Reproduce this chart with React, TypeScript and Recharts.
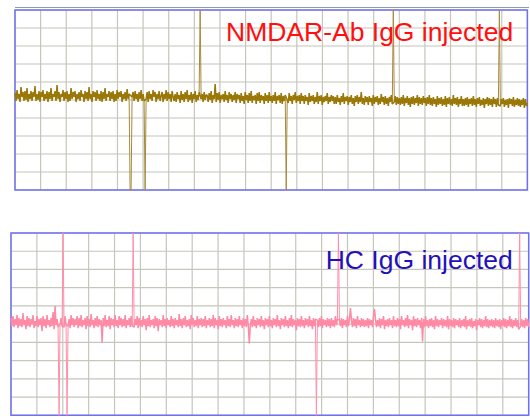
import React from "react";
import { LineChart, Line, XAxis, YAxis, CartesianGrid, ReferenceArea } from "recharts";

// Recorded traces, one sample per step, in arbitrary units (panel spans -90..90).
const nmdarTrace: number[] = [
  7,-1,10,1,6,-2,13,3,8,-1,9,0,12,-2,6,1,9,-1,8,3,14,-1,6,0,9,-2,8,3,10,-1,6,1,
  9,-2,8,1,12,-1,6,3,9,-1,15,1,8,-2,6,3,10,-1,8,1,9,-2,6,-1,12,1,8,3,9,-2,6,1,
  8,-1,10,3,6,-2,9,1,8,-1,13,1,6,-2,9,3,8,-1,10,1,6,-1,9,-2,8,1,12,-1,6,3,9,-1,
  8,1,9,-2,6,-1,10,1,8,3,9,-2,6,1,8,-1,11,1,6,-90,-90,3,8,-1,9,1,6,-2,8,1,10,-1,
  6,-1,-90,1,8,-2,9,1,6,-1,10,3,8,-2,6,1,9,-1,4,8,-2,6,1,10,-1,8,1,6,-2,9,3,-1,
  6,-2,8,1,5,-3,9,0,6,-2,8,1,10,-2,5,0,8,-3,6,1,9,-2,5,0,8,90,1,6,-2,8,0,5,
  5,-2,7,0,9,-3,5,1,16,-2,7,0,8,-3,5,1,6,-2,9,0,5,-3,8,1,6,-2,5,0,8,-3,6,1,
  5,-3,7,-1,4,-4,8,0,5,-3,7,-1,9,-3,4,0,5,-4,7,-1,8,-3,5,0,4,-4,7,-1,5,-3,8,-1,
  4,-3,5,-1,8,-4,4,0,5,-3,7,-4,4,-1,5,-90,0,-3,7,-1,4,-4,5,0,8,-3,4,-1,5,-4,7,-1,
  4,-4,5,-1,3,-5,7,-2,4,-1,5,-4,3,-2,8,-4,4,-1,5,-5,3,-2,4,-1,7,-4,3,-2,5,-1,4,-4,
  3,-4,5,-2,2,-5,4,-2,7,-4,3,-1,4,-5,3,-2,5,-4,2,-6,4,-2,5,-4,3,-2,8,-4,2,-5,4,-2,
  3,-5,4,-2,2,-6,5,-4,3,-2,4,-5,2,-4,6,-2,3,-5,4,-4,2,-6,3,-2,5,-4,90,-2,4,-5,3,-4,
  2,-5,3,-4,5,-6,2,-3,4,-5,2,-7,3,-4,4,-5,2,-3,5,-6,3,-4,2,-5,4,-3,2,-6,3,-4,5,-5,
  2,-6,3,-4,1,-7,4,-5,2,-4,3,-6,1,-5,4,-7,2,-4,3,-5,1,-6,5,-4,2,-5,3,-7,1,-4,4,-6,
  1,-6,2,-5,3,-7,1,-4,2,-6,4,-5,1,-7,2,-4,3,-6,0,-5,2,-8,1,-4,3,-6,2,-5,1,-7,3,-4,
  1,-7,2,-5,90,-6,1,-4,2,-7,0,-5,1,-8,2,-4,1,-6,3,-7,0,-5,2,-6,1,-7,0,-5,2,-8,1,-6,
  -3,
];

const hcTrace: number[] = [
  6,-2,8,-3,5,-1,9,-4,6,-2,5,-3,11,-1,4,-5,8,-2,6,-3,5,0,9,-4,3,-2,8,-3,5,-1,6,-7,
  8,-2,5,-4,9,-1,4,-3,6,-2,12,-5,18,-1,5,-3,-90,0,6,-2,90,-3,8,-1,-90,-2,5,-4,9,-1,6,-3,
  5,-1,8,-4,6,-2,9,-3,4,-1,6,-5,8,-2,5,-3,10,-1,4,-4,6,-2,8,-3,5,-1,4,-18,6,-2,9,-3,
  4,-2,8,-5,6,-1,5,-3,9,-2,4,-4,8,-1,6,-3,5,-2,9,-4,4,-1,6,-3,8,-2,90,-3,5,-1,8,-4,
  6,-2,4,-3,8,-1,5,-6,6,-2,9,-3,4,-1,5,-4,8,-2,6,-7,5,-1,4,-3,9,-2,5,-4,6,-1,4,-3,
  8,-2,5,-4,6,-1,4,-3,10,-2,5,-4,6,-1,8,-3,4,-2,5,-5,9,-1,6,-3,4,-2,8,-4,5,-1,6,-3,
  5,-2,8,-4,4,-1,6,-3,5,-2,9,-4,6,-1,4,-5,8,-2,5,-3,6,-1,4,-4,8,-2,5,-3,9,-1,4,-4,
  6,-2,5,-3,8,-1,4,-4,6,-2,5,-3,9,-2,-19,-1,5,-3,8,-2,4,-4,6,-1,5,-3,8,-2,4,-5,6,-1,
  5,-3,8,-2,4,-4,6,-1,5,-3,9,-2,4,-5,6,-1,5,-3,8,-2,4,-4,6,-2,9,-3,5,-1,4,-6,6,-2,
  5,-3,8,-2,4,-4,6,-1,5,-3,8,-2,4,-5,6,-2,5,-90,4,-3,6,-2,8,-4,5,-1,4,-3,6,-2,5,-4,
  6,-2,4,-3,8,-1,5,90,4,-2,6,-4,5,-1,4,-3,8,-2,5,16,4,-3,6,-2,5,-4,8,-1,4,-3,6,-2,
  5,-3,4,-2,6,-4,5,-1,4,-3,8,15,5,-3,4,-2,6,-4,5,-1,8,-5,4,-2,5,-3,6,-1,4,-4,8,-2,
  4,-3,6,-2,5,-5,8,-1,4,-3,6,-2,9,-4,5,-1,4,-6,8,-2,5,-3,6,-1,4,-4,6,-17,5,-3,8,-2,
  4,-4,5,-2,6,-3,4,-5,8,-2,5,-3,4,-1,6,-4,5,-2,4,-3,8,-5,5,-2,4,-3,6,-4,5,-1,4,-3,
  6,-4,4,-2,5,-3,8,-5,4,-2,5,-3,6,-4,3,-2,5,-6,4,-1,6,-3,5,-4,4,-2,8,-3,5,-4,4,-2,
  5,-3,4,-4,6,-2,4,-3,5,-5,4,-2,6,-3,5,-4,4,-2,8,-3,5,-4,4,-2,6,-3,4,-5,90,-2,5,-3,
  4,-4,6,-2,5,-3,
];

const panelTitles = ["NMDAR-Ab IgG injected", "HC IgG injected"];
const yRange: [number, number] = [-90, 90];
const yGridTicks = [-90, -72, -54, -36, -18, 0, 18, 36, 54, 72, 90];
const xDivisions = 20;
// Samples beyond this magnitude are full-scale transients, drawn as hairlines.
const transientLevel = 30;

const BORDER = "#7070f2";
const GRID = "#c6c6bc";

type PanelProps = {
  values: number[];
  color: string;
  spikeColor: string;
  left: number;
  top: number;
  width: number;
  height: number;
};

function TracePanel({ values, color, spikeColor, left, top, width, height }: PanelProps) {
  const isBig = (k: number) => k >= 0 && k < values.length && Math.abs(values[k]) > transientLevel;
  const data = values.map((v, i) => ({
    i,
    band: isBig(i) ? null : v,
    spike: isBig(i) || isBig(i - 1) || isBig(i + 1) ? v : null,
  }));
  const last = values.length - 1;
  const xGridTicks = Array.from({ length: xDivisions + 1 }, (_, k) => (last * k) / xDivisions);
  const pad = 2;
  return (
    <div style={{ position: "absolute", left: left - pad, top: top - pad }}>
      <LineChart
        width={width + pad * 2}
        height={height + pad * 2}
        data={data}
        margin={{ top: pad, right: pad, bottom: pad, left: pad }}
      >
        <XAxis dataKey="i" type="number" domain={[0, last]} ticks={xGridTicks} interval={0} hide />
        <YAxis type="number" domain={yRange} ticks={yGridTicks} interval={0} hide />
        <CartesianGrid stroke={GRID} strokeWidth={1.2} />
        <Line
          type="linear"
          dataKey="spike"
          stroke={spikeColor}
          strokeWidth={1}
          dot={false}
          connectNulls={false}
          isAnimationActive={false}
        />
        <Line
          type="linear"
          dataKey="band"
          stroke={color}
          strokeWidth={1.5}
          strokeLinejoin="bevel"
          dot={false}
          connectNulls
          isAnimationActive={false}
        />
        <ReferenceArea
          x1={0}
          x2={last}
          y1={yRange[0]}
          y2={yRange[1]}
          fill="none"
          fillOpacity={0}
          stroke={BORDER}
          strokeWidth={1.5}
        />
      </LineChart>
    </div>
  );
}

export default function App() {
  return (
    <div
      style={{
        position: "absolute",
        left: 0,
        top: 0,
        width: 530,
        height: 417,
        overflow: "hidden",
        background: "#ffffff",
      }}
    >
      <div
        style={{
          position: "absolute",
          left: 15,
          top: 6.5,
          width: 514,
          height: 1.5,
          background: "#8d9d9d",
        }}
      />
      <TracePanel
        values={nmdarTrace}
        color="#9a7808"
        spikeColor="#a88a3c"
        left={15.3}
        top={10}
        width={512.4}
        height={180}
      />
      <TracePanel
        values={hcTrace}
        color="#ff8aa6"
        spikeColor="#ff8fab"
        left={11}
        top={233.4}
        width={517.7}
        height={182.3}
      />
      <svg
        width={530}
        height={417}
        style={{ position: "absolute", left: 0, top: 0, pointerEvents: "none" }}
      >
        <text
          x={226}
          y={41}
          fontFamily="'Liberation Sans', Arial, sans-serif"
          fontSize={26.5}
          fill="#ff0f0f"
        >
          {panelTitles[0]}
        </text>
        <text
          x={325.7}
          y={269.3}
          fontFamily="'Liberation Sans', Arial, sans-serif"
          fontSize={26.5}
          fill="#2410bb"
        >
          {panelTitles[1]}
        </text>
      </svg>
    </div>
  );
}
